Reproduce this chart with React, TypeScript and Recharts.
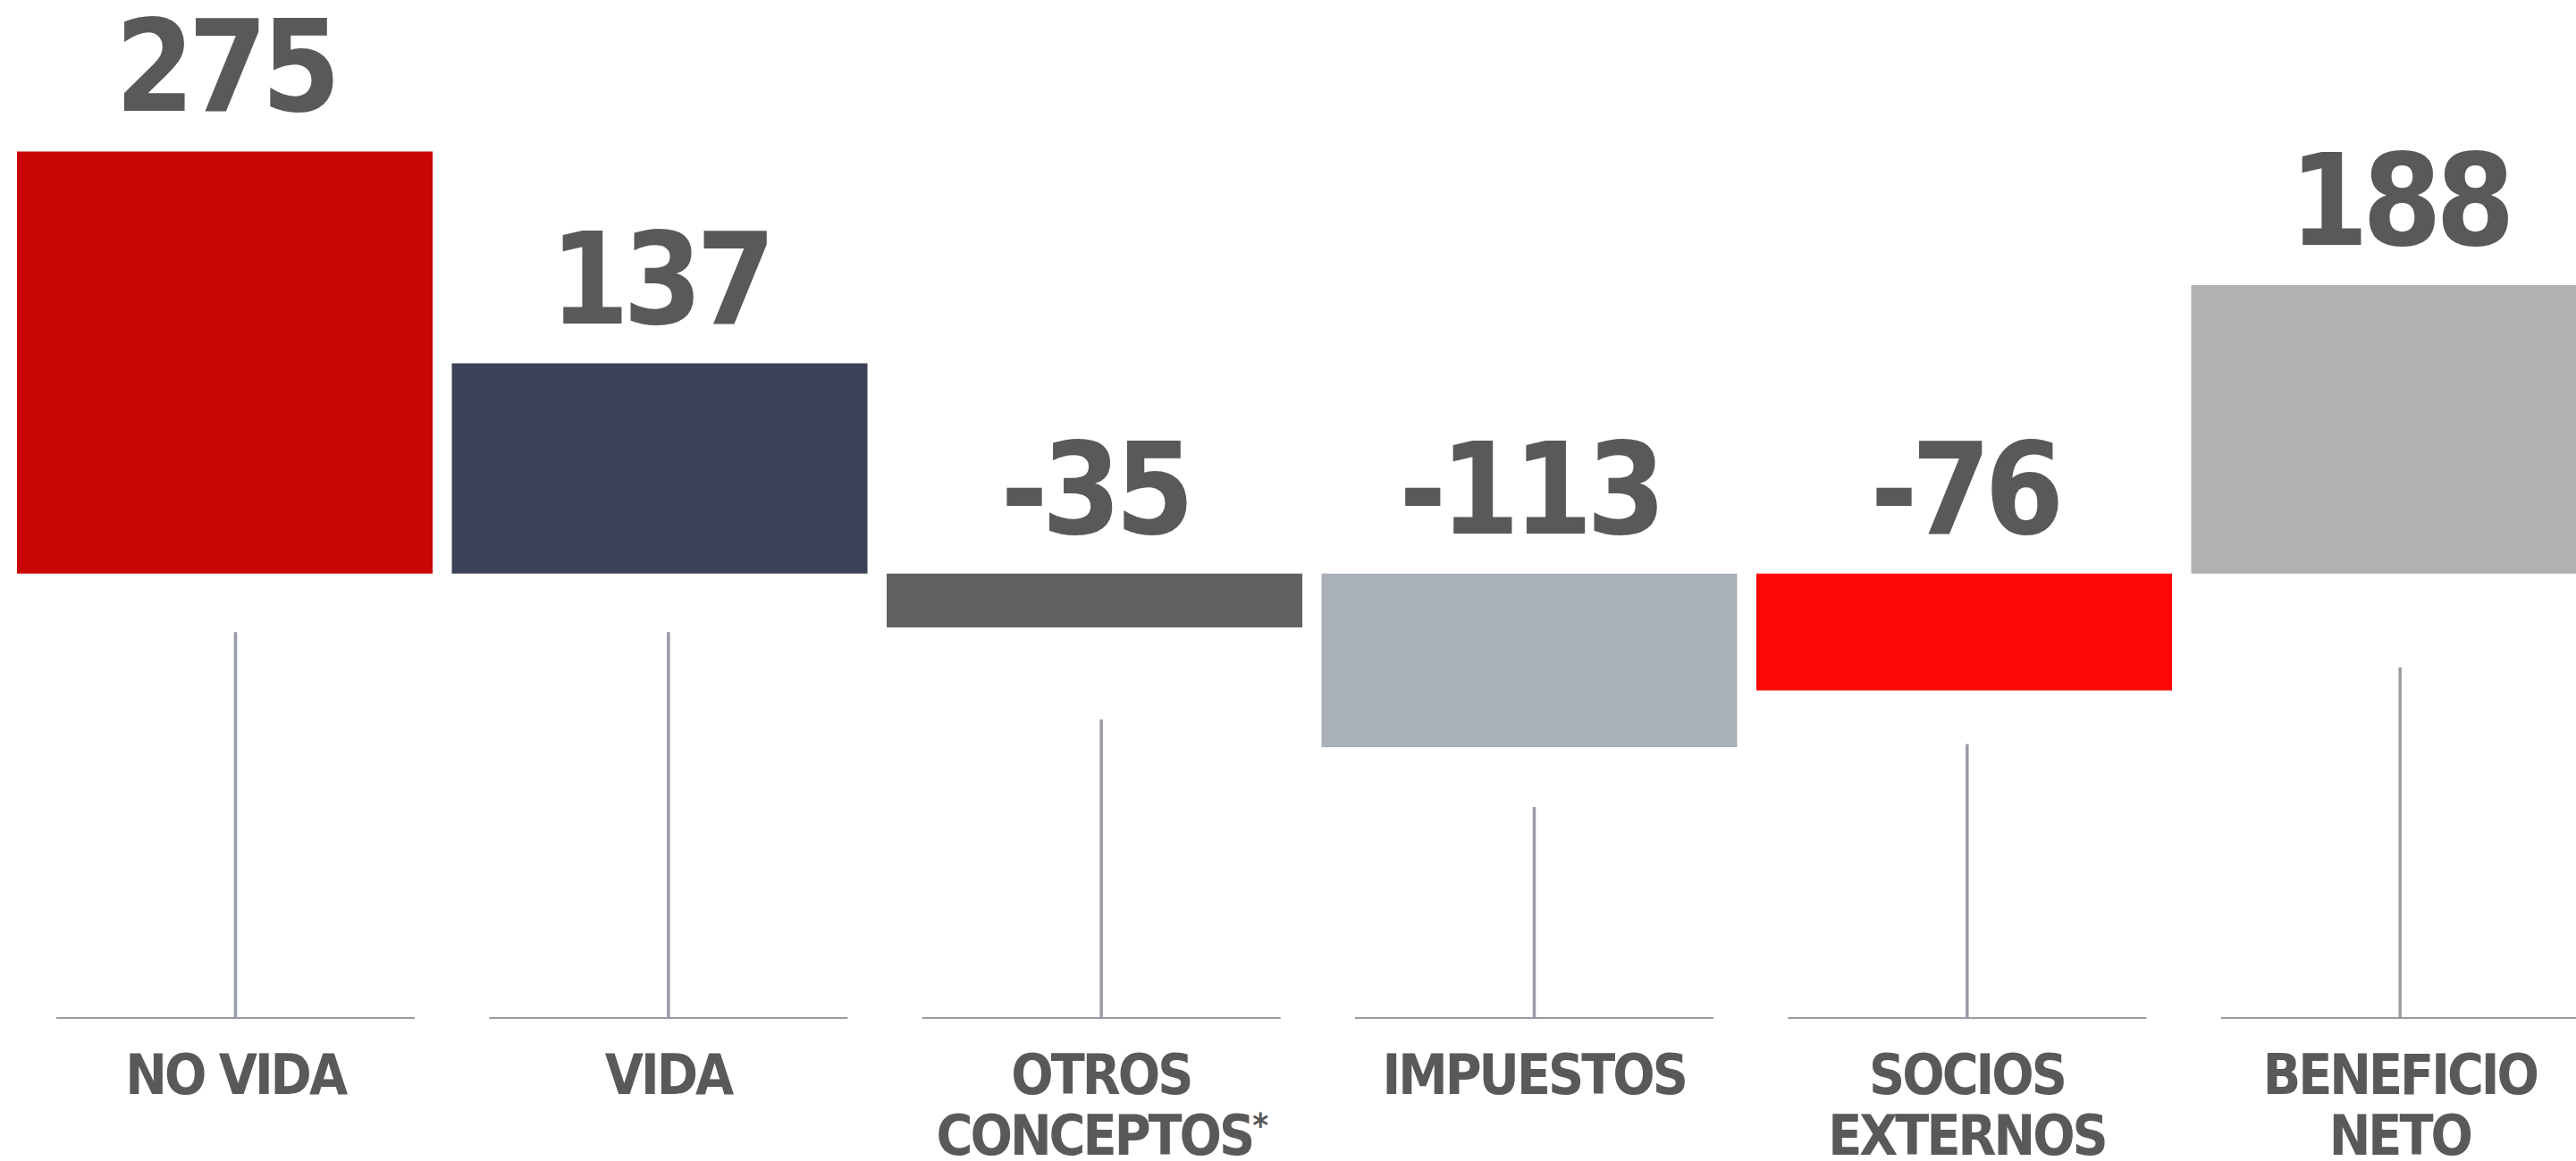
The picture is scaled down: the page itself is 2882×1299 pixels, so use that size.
import { Bar, BarChart, Cell, LabelList, XAxis, YAxis } from "recharts";

const categories = [
  "NO VIDA",
  "VIDA",
  "OTROS CONCEPTOS*",
  "IMPUESTOS",
  "SOCIOS EXTERNOS",
  "BENEFICIO NETO",
];
const labelLines = [
  ["NO VIDA"],
  ["VIDA"],
  ["OTROS", "CONCEPTOS*"],
  ["IMPUESTOS"],
  ["SOCIOS", "EXTERNOS"],
  ["BENEFICIO", "NETO"],
];
const values = [275, 137, -35, -113, -76, 188];
// decorative stems below the bars in the same units
const stemTops = [-38, -38, -95, -152, -111, -61];
const stemBase = -290;
const yDomain: [number, number] = [-290, 369];

const barColors = [
  "#CA0606",
  "#3C4257",
  "#616161",
  "#AAB0B7",
  "#FF0606",
  "#B1B1B1",
];

const TEXT = "#595959";
const STEM = "#989CA4";
const FONT = '"DejaVu Sans Condensed", "DejaVu Sans", sans-serif';

const data = categories.map((name, i) => ({
  name,
  value: values[i],
  stem: [stemBase, stemTops[i]],
}));

function Stem(props: any) {
  const { x, y, width, height } = props;
  const top = Math.min(y, y + height);
  const bottom = Math.max(y, y + height);
  const cx = x + width / 2;
  return (
    <g>
      <line x1={cx} x2={cx} y1={top} y2={bottom} stroke={STEM} strokeWidth={3.5} />
      <line
        x1={x}
        x2={x + width}
        y1={bottom}
        y2={bottom}
        stroke={STEM}
        strokeWidth={4}
      />
    </g>
  );
}

function ValueLabel(props: any) {
  const { x, y, width, height, value } = props;
  const top = Math.min(y, y + height);
  return (
    <text
      x={x + width / 2}
      y={top - 45}
      textAnchor="middle"
      fill={TEXT}
      fontFamily={FONT}
      fontWeight="bold"
      fontSize={142}
      letterSpacing={-7}
      style={{ fontStretch: "condensed" }}
    >
      {value}
    </text>
  );
}

function CategoryTick(props: any) {
  const { x, y, index } = props;
  const lines = labelLines[index] ?? [props.payload?.value];
  return (
    <g>
      {lines.map((line: string, i: number) => {
        const star = line.endsWith("*");
        return (
          <text
            key={line}
            x={x}
            y={y + 54 + i * 68}
            textAnchor="middle"
            fill={TEXT}
            fontFamily={FONT}
            fontWeight="bold"
            fontSize={62}
            letterSpacing={-3}
            style={{ fontStretch: "condensed" }}
          >
            {star ? line.slice(0, -1) : line}
            {star && (
              <tspan fontSize={38} dy={-20}>
                *
              </tspan>
            )}
          </text>
        );
      })}
    </g>
  );
}

export default function App() {
  return (
    <div
      style={{
        position: "absolute",
        left: 8,
        top: 8,
        width: 2874,
        height: 1291,
        overflow: "hidden",
      }}
    >
      <BarChart
        data={data}
        height={1291}
        margin={{ top: 0, right: -45, bottom: 0, left: 0 }}
        width={2874}
      >
        <XAxis dataKey="name" hide xAxisId="main" />
        <XAxis
          axisLine={false}
          dataKey="name"
          height={159}
          interval={0}
          padding={{ left: 13, right: 0 }}
          tick={<CategoryTick />}
          tickLine={false}
          tickMargin={0}
          tickSize={0}
          xAxisId="stems"
        />
        <YAxis allowDataOverflow domain={yDomain} hide type="number" />
        <Bar
          barSize={401}
          dataKey="stem"
          isAnimationActive={false}
          shape={<Stem />}
          xAxisId="stems"
        />
        <Bar
          barSize={465}
          dataKey="value"
          isAnimationActive={false}
          xAxisId="main"
        >
          {data.map((_, index) => (
            <Cell fill={barColors[index]} key={`cell-${index}`} />
          ))}
          <LabelList content={<ValueLabel />} dataKey="value" />
        </Bar>
      </BarChart>
    </div>
  );
}
